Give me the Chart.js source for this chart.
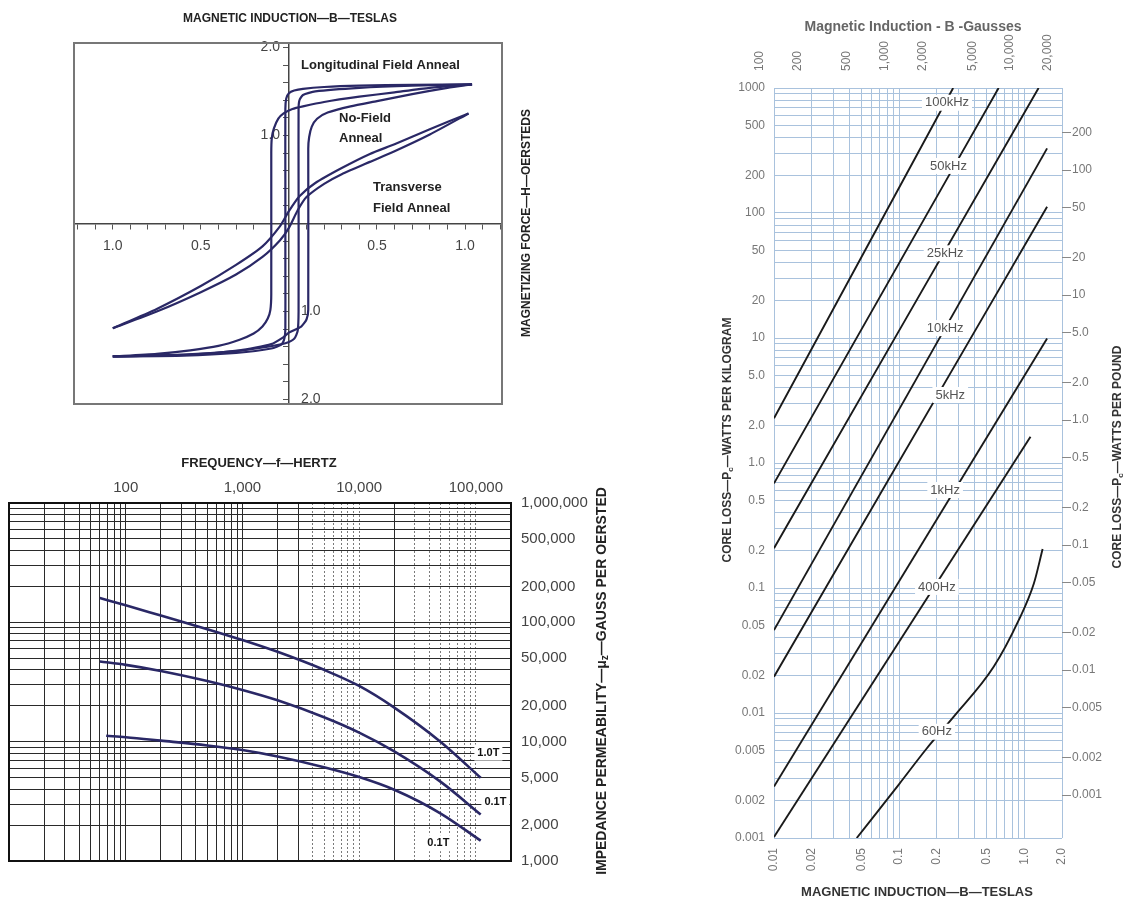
<!DOCTYPE html>
<html>
<head>
<meta charset="utf-8">
<title>Magnetic properties</title>
<style>
  body { margin: 0; background: #fff; }
  #page { position: relative; width: 1127px; height: 901px; overflow: hidden; }
  canvas { position: absolute; }
</style>
</head>
<body>
<div id="page">
  <canvas id="loops" width="560" height="420" style="left:0;top:0"></canvas>
  <canvas id="perm" width="620" height="461" style="left:0;top:440px"></canvas>
  <canvas id="loss" width="427" height="901" style="left:700px;top:0"></canvas>
</div>
<script src="https://cdn.jsdelivr.net/npm/chart.js@4.4.1/dist/chart.umd.min.js"></script>
<script>
// ---- hysteresis loops, points are [H oersteds, B teslas]
const longitudinalDown = [[1.04,1.58],[0.7,1.575],[0.4,1.565],[0.2,1.55],[0.08,1.53],[0.03,1.51],[0,1.48],[-0.015,1.42],[-0.02,1.3],[-0.02,0.5],[-0.02,-0.5],[-0.02,-1.2],[-0.025,-1.3],[-0.04,-1.37],[-0.1,-1.42],[-0.3,-1.47],[-0.6,-1.5],[-1.0,-1.51]];
const longitudinalUp = [[-1.0,-1.51],[-0.6,-1.49],[-0.3,-1.45],[-0.12,-1.4],[-0.02,-1.36],[0.03,-1.31],[0.05,-1.22],[0.055,-1.0],[0.055,0.5],[0.055,1.3],[0.06,1.4],[0.08,1.46],[0.15,1.5],[0.4,1.54],[0.7,1.565],[1.04,1.58]];
const noFieldDown = [[1.04,1.58],[0.8,1.54],[0.6,1.49],[0.4,1.44],[0.2,1.38],[0.08,1.33],[0.02,1.3],[-0.03,1.25],[-0.06,1.19],[-0.085,1.08],[-0.097,0.97],[-0.1,0.8],[-0.1,-0.8],[-0.105,-0.98],[-0.12,-1.08],[-0.15,-1.17],[-0.2,-1.25],[-0.28,-1.32],[-0.4,-1.39],[-0.56,-1.44],[-0.75,-1.48],[-1.0,-1.51]];
const noFieldUp = [[-1.0,-1.51],[-0.56,-1.49],[-0.28,-1.44],[-0.1,-1.37],[-0.03,-1.29],[0,-1.24],[0.07,-1.17],[0.1,-1.09],[0.11,-0.98],[0.11,0.85],[0.115,0.98],[0.13,1.1],[0.16,1.19],[0.22,1.26],[0.35,1.33],[0.5,1.39],[0.7,1.47],[0.9,1.54],[1.04,1.58]];
const transverseDown = [[1.02,1.25],[0.8,1.07],[0.6,0.9],[0.46,0.79],[0.3,0.63],[0.15,0.46],[0.06,0.31],[0,0.14],[-0.05,-0.03],[-0.15,-0.26],[-0.3,-0.47],[-0.5,-0.71],[-0.75,-0.97],[-1.0,-1.19]];
const transverseUp = [[-1.0,-1.19],[-0.75,-1.0],[-0.5,-0.78],[-0.3,-0.58],[-0.15,-0.38],[-0.05,-0.19],[0,-0.05],[0.05,0.15],[0.1,0.3],[0.2,0.45],[0.3,0.56],[0.46,0.7],[0.6,0.82],[0.8,1.01],[1.02,1.25]];
const hLabelValues = [-1, -0.5, 0.5, 1];
const hLabels = ['1.0', '0.5', '0.5', '1.0'];
const bUpperValues = [1, 2];
const bUpperLabels = ['1.0', '2.0'];
const bLowerValues = [-1, -2];
const bLowerLabels = ['1.0', '2.0'];

// ---- impedance permeability vs frequency
const permFreq10T = [60, 100, 200, 500, 1000, 2000, 5000, 10000, 20000, 50000, 110000];
const perm10T = [160000, 139000, 114000, 87700, 71100, 56600, 40000, 29300, 19300, 9950, 4980];
const permFreq01T = [60, 100, 200, 500, 1000, 2000, 5000, 10000, 20000, 50000, 110000];
const perm01T = [47000, 44000, 39100, 32200, 27100, 22200, 16000, 11900, 8280, 4600, 2450];
const permFreq01TLow = [68, 100, 200, 500, 1000, 2000, 5000, 10000, 20000, 50000, 110000];
const perm01TLow = [11200, 10900, 10200, 9300, 8500, 7500, 6100, 5050, 3950, 2500, 1480];
const freqTicks = [100, 1000, 10000, 100000];
const freqLabels = ['100', '1,000', '10,000', '100,000'];
const permTicks = [1000000, 500000, 200000, 100000, 50000, 20000, 10000, 5000, 2000, 1000];
const permLabels = ['1,000,000', '500,000', '200,000', '100,000', '50,000', '20,000', '10,000', '5,000', '2,000', '1,000'];

// ---- core loss vs induction
const lossB100k = [0.01, 0.27];  const loss100k = [2.28, 1000];
const lossB50k  = [0.01, 0.623]; const loss50k  = [0.687, 1000];
const lossB25k  = [0.01, 1.30];  const loss25k  = [0.208, 1000];
const lossB10k  = [0.01, 1.52];  const loss10k  = [0.046, 329];
const lossB5k   = [0.01, 1.52];  const loss5k   = [0.0195, 112];
const lossB1k   = [0.01, 1.52];  const loss1k   = [0.00258, 9.9];
const lossB400  = [0.01, 1.12];  const loss400  = [0.00102, 1.62];
const lossB60   = [0.0458, 0.1, 0.166, 0.272, 0.569, 0.9, 1.19, 1.40];
const loss60    = [0.001, 0.0027, 0.0052, 0.0093, 0.0234, 0.055, 0.108, 0.205];
const lossNames = ['100kHz', '50kHz', '25kHz', '10kHz', '5kHz', '1kHz', '400Hz', '60Hz'];
const teslaTicks = [0.01, 0.02, 0.05, 0.1, 0.2, 0.5, 1, 2];
const teslaLabels = ['0.01', '0.02', '0.05', '0.1', '0.2', '0.5', '1.0', '2.0'];
const gaussTicks = [100, 200, 500, 1000, 2000, 5000, 10000, 20000];
const gaussLabels = ['100', '200', '500', '1,000', '2,000', '5,000', '10,000', '20,000'];
const kgTicks = [1000, 500, 200, 100, 50, 20, 10, 5, 2, 1, 0.5, 0.2, 0.1, 0.05, 0.02, 0.01, 0.005, 0.002, 0.001];
const kgLabels = ['1000', '500', '200', '100', '50', '20', '10', '5.0', '2.0', '1.0', '0.5', '0.2', '0.1', '0.05', '0.02', '0.01', '0.005', '0.002', '0.001'];
const lbTicks = [200, 100, 50, 20, 10, 5, 2, 1, 0.5, 0.2, 0.1, 0.05, 0.02, 0.01, 0.005, 0.002, 0.001];
const lbLabels = ['200', '100', '50', '20', '10', '5.0', '2.0', '1.0', '0.5', '0.2', '0.1', '0.05', '0.02', '0.01', '0.005', '0.002', '0.001'];
const LB_PER_KG = 0.4536;

const FONT = "'Liberation Sans', Arial, Helvetica, sans-serif";
Chart.defaults.font.family = FONT;
Chart.defaults.color = '#333';
const navy = '#2a2866';

const ticksAt = list => scale => { scale.ticks = list.map(v => ({ value: v })); };
const labelFor = (values, labels) => v => {
  const i = values.findIndex(t => Math.abs(t - v) <= Math.abs(t) * 1e-6 + 1e-9);
  return i < 0 ? '' : labels[i];
};
function logGrid(fromExp, toExp) {
  const out = [];
  for (let e = fromExp; e < toExp; e++)
    for (let s = 1; s < 10; s++) out.push(+(s * Math.pow(10, e)).toPrecision(6));
  return out;
}
function steps(from, to, step) {
  const out = [];
  for (let v = from; v <= to + 1e-9; v += step) out.push(+v.toFixed(4));
  return out;
}

// text drawn on the canvas, either at canvas pixels or at data coordinates
function textLayer(items) {
  return {
    id: 'textLayer',
    afterDatasetsDraw(chart) {
      const ctx = chart.ctx;
      items.forEach(it => {
        let x = it.x, y = it.y;
        if (it.at) {
          x = chart.scales.x.getPixelForValue(it.at[0]);
          y = chart.scales.y.getPixelForValue(it.at[1]);
        }
        const parts = it.parts || [{ t: it.text }];
        ctx.save();
        ctx.translate(x, y);
        ctx.rotate(it.rot || 0);
        ctx.textBaseline = 'middle';
        ctx.textAlign = 'left';
        const widths = parts.map(p => { ctx.font = p.font || it.font; return ctx.measureText(p.t).width; });
        const total = widths.reduce((a, b) => a + b, 0);
        let cx = it.align === 'left' ? 0 : -total / 2;
        if (it.bg) {
          ctx.fillStyle = it.bg;
          ctx.fillRect(cx - 3, -8, total + 6, 16);
        }
        parts.forEach((p, i) => {
          ctx.font = p.font || it.font;
          ctx.fillStyle = it.color;
          ctx.fillText(p.t, cx, p.dy || 0);
          cx += widths[i];
        });
        ctx.restore();
      });
    }
  };
}
function frame(color, width) {
  return {
    id: 'frame',
    afterDraw(chart) {
      const a = chart.chartArea, ctx = chart.ctx;
      ctx.save();
      ctx.strokeStyle = color;
      ctx.lineWidth = width;
      ctx.strokeRect(a.left, a.top, a.right - a.left, a.bottom - a.top);
      ctx.restore();
    }
  };
}
const quiet = { legend: { display: false }, tooltip: { enabled: false } };

// ================= hysteresis loops =================
const loopSet = pts => ({
  data: pts.map(([x, y]) => ({ x, y })), showLine: true, borderColor: navy,
  borderWidth: 2.2, pointRadius: 0, tension: 0.2
});
const labelAxis = (px, values, labels) => ({
  type: 'linear', axis: 'y', position: { x: px }, min: -2.05, max: 2.05,
  afterBuildTicks: ticksAt(values),
  ticks: { padding: 0, font: { size: 14 }, color: '#444', callback: labelFor(values, labels) },
  grid: { display: false, drawTicks: false, tickLength: 0 },
  border: { display: false }
});
const loopTexts = [
  { text: 'MAGNETIC INDUCTION—B—TESLAS', x: 290, y: 19, font: `bold 12px ${FONT}`, color: '#222' },
  { text: 'MAGNETIZING FORCE—H—OERSTEDS', x: 527, y: 223, rot: -Math.PI / 2, font: `bold 12px ${FONT}`, color: '#222' },
  { text: 'Longitudinal Field Anneal', x: 301, y: 65, align: 'left', font: `bold 13px ${FONT}`, color: '#222' },
  { text: 'No-Field', x: 339, y: 118, align: 'left', font: `bold 13px ${FONT}`, color: '#222' },
  { text: 'Anneal', x: 339, y: 138, align: 'left', font: `bold 13px ${FONT}`, color: '#222' },
  { text: 'Transverse', x: 373, y: 187, align: 'left', font: `bold 13px ${FONT}`, color: '#222' },
  { text: 'Field Anneal', x: 373, y: 208, align: 'left', font: `bold 13px ${FONT}`, color: '#222' }
];
new Chart(document.getElementById('loops'), {
  type: 'scatter',
  data: { datasets: [longitudinalDown, longitudinalUp, noFieldDown, noFieldUp, transverseDown, transverseUp].map(loopSet) },
  options: {
    responsive: false, animation: false,
    layout: { padding: { left: 74, top: 43, right: 58, bottom: 16 } },
    plugins: quiet,
    scales: {
      x: {
        type: 'linear', position: { y: 0 }, min: -1.22, max: 1.21,
        afterBuildTicks: ticksAt(steps(-1.2, 1.2, 0.1)),
        ticks: { autoSkip: false, maxRotation: 0, padding: 9, font: { size: 14 }, color: '#444', callback: labelFor(hLabelValues, hLabels) },
        grid: { drawOnChartArea: false, tickLength: 5, color: '#555' },
        border: { color: '#444', width: 1.5 }
      },
      y: {
        type: 'linear', position: { x: 0 }, min: -2.05, max: 2.05,
        afterBuildTicks: ticksAt(steps(-2.0, 2.0, 0.2)),
        ticks: { display: false },
        grid: { drawOnChartArea: false, tickLength: 5, color: '#555' },
        border: { color: '#444', width: 1.5 }
      },
      yl: labelAxis(-0.05, bUpperValues, bUpperLabels),
      yr: labelAxis(0.18, bLowerValues, bLowerLabels)
    }
  },
  plugins: [textLayer(loopTexts), frame('#777', 2)]
});

// ================= permeability =================
const permSet = (f, m) => ({
  data: f.map((x, i) => ({ x, y: m[i] })), showLine: true, borderColor: navy,
  borderWidth: 2.6, pointRadius: 0, cubicInterpolationMode: 'monotone'
});
const dottedFreq = t => !!t && ((t.value >= 4000 && t.value <= 10000) || (t.value >= 30000 && t.value <= 100000));
const tLabel = `bold 11px ${FONT}`;
const permTexts = [
  { text: 'FREQUENCY—f—HERTZ', x: 259, y: 23, font: `bold 13px ${FONT}`, color: '#222' },
  { parts: [{ t: 'IMPEDANCE PERMEABILITY—μ' }, { t: 'z', font: `bold 10px ${FONT}`, dy: 3 }, { t: '—GAUSS PER OERSTED' }],
    x: 602, y: 241, rot: -Math.PI / 2, font: `bold 14px ${FONT}`, color: '#222' },
  { text: '1.0T', at: [128000, 8100], font: tLabel, color: '#111', bg: '#fff' },
  { text: '0.1T', at: [147000, 3100], font: tLabel, color: '#111', bg: '#fff' },
  { text: '0.1T', at: [47700, 1410], font: tLabel, color: '#111', bg: '#fff' }
];
new Chart(document.getElementById('perm'), {
  type: 'scatter',
  data: { datasets: [permSet(permFreq10T, perm10T), permSet(permFreq01T, perm01T), permSet(permFreq01TLow, perm01TLow)] },
  options: {
    responsive: false, animation: false,
    layout: { padding: { left: 9, top: 0, right: 0, bottom: 40 } },
    plugins: quiet,
    scales: {
      x: {
        type: 'logarithmic', position: 'top', min: 10, max: 200000,
        afterBuildTicks: ticksAt(logGrid(1, 5).concat([100000, 200000])),
        afterFit: s => { s.height = 63; },
        ticks: { autoSkip: false, maxRotation: 0, padding: 6, font: { size: 15 }, color: '#444', callback: labelFor(freqTicks, freqLabels) },
        grid: { drawTicks: false, color: c => dottedFreq(c.tick) ? '#7a7a7a' : '#2a2a2a' },
        border: { display: false, dash: c => dottedFreq(c.tick) ? [2, 2] : [] }
      },
      y: {
        type: 'logarithmic', position: 'right', min: 1000, max: 1000000,
        afterBuildTicks: ticksAt(logGrid(3, 6).concat([1000000])),
        afterFit: s => { s.width = 109; },
        ticks: { autoSkip: false, padding: 10, font: { size: 15 }, color: '#444', callback: labelFor(permTicks, permLabels) },
        grid: { drawTicks: false, color: '#2a2a2a' },
        border: { display: false }
      }
    }
  },
  plugins: [textLayer(permTexts), frame('#111', 2)]
});

// ================= core loss =================
const lossSet = (b, p) => ({
  data: b.map((x, i) => ({ x, y: p[i] })), showLine: true, borderColor: '#1a1a1a',
  borderWidth: 1.9, pointRadius: 0, cubicInterpolationMode: 'monotone'
});
const lossLabelAt = [[0.241, 762], [0.248, 238], [0.233, 47.6], [0.233, 12], [0.256, 3.5], [0.233, 0.608], [0.2, 0.102], [0.2, 0.00708]];
const gridBlue = '#a9c2dd';
const grayTick = { font: { size: 12 }, color: '#777', autoSkip: false };
const sub = `bold 8px ${FONT}`;
const lossTexts = [
  { text: 'Magnetic Induction - B -Gausses', x: 213, y: 27, font: `bold 14px ${FONT}`, color: '#666' },
  { text: 'MAGNETIC INDUCTION—B—TESLAS', x: 217, y: 892, font: `bold 13px ${FONT}`, color: '#333' },
  { parts: [{ t: 'CORE LOSS—P' }, { t: 'c', font: sub, dy: 3 }, { t: '—WATTS PER KILOGRAM' }],
    x: 28, y: 440, rot: -Math.PI / 2, font: `bold 12px ${FONT}`, color: '#333' },
  { parts: [{ t: 'CORE LOSS—P' }, { t: 'c', font: sub, dy: 3 }, { t: '—WATTS PER POUND' }],
    x: 418, y: 457, rot: -Math.PI / 2, font: `bold 12px ${FONT}`, color: '#333' }
].concat(lossNames.map((n, i) => ({ text: n, at: lossLabelAt[i], font: `13px ${FONT}`, color: '#555', bg: '#fff' })));
new Chart(document.getElementById('loss'), {
  type: 'scatter',
  data: {
    datasets: [
      lossSet(lossB100k, loss100k), lossSet(lossB50k, loss50k), lossSet(lossB25k, loss25k),
      lossSet(lossB10k, loss10k), lossSet(lossB5k, loss5k), lossSet(lossB1k, loss1k),
      lossSet(lossB400, loss400), lossSet(lossB60, loss60)
    ]
  },
  options: {
    responsive: false, animation: false,
    layout: { padding: 0 },
    plugins: quiet,
    scales: {
      x: {
        type: 'logarithmic', position: 'bottom', min: 0.01, max: 2,
        afterBuildTicks: ticksAt(logGrid(-2, 0).concat([1, 2])),
        afterFit: s => { s.height = 63; },
        ticks: { ...grayTick, minRotation: 90, maxRotation: 90, padding: 10, callback: labelFor(teslaTicks, teslaLabels) },
        grid: { drawTicks: false, color: gridBlue },
        border: { display: false }
      },
      x2: {
        type: 'logarithmic', axis: 'x', position: 'top', min: 100, max: 20000,
        afterBuildTicks: ticksAt(gaussTicks),
        afterFit: s => { s.height = 88; },
        ticks: { ...grayTick, minRotation: 90, maxRotation: 90, padding: 9, callback: labelFor(gaussTicks, gaussLabels) },
        grid: { display: false },
        border: { display: false }
      },
      y: {
        type: 'logarithmic', position: 'left', min: 0.001, max: 1000,
        afterBuildTicks: ticksAt(logGrid(-3, 3).concat([1000])),
        afterFit: s => { s.width = 74; },
        ticks: { ...grayTick, padding: 9, callback: labelFor(kgTicks, kgLabels) },
        grid: { drawTicks: false, color: gridBlue },
        border: { display: false }
      },
      y2: {
        type: 'logarithmic', axis: 'y', position: 'right', min: 0.001 * LB_PER_KG, max: 1000 * LB_PER_KG,
        afterBuildTicks: ticksAt(lbTicks),
        afterFit: s => { s.width = 65; },
        ticks: { ...grayTick, padding: 1, callback: labelFor(lbTicks, lbLabels) },
        grid: { drawOnChartArea: false, tickLength: 9, color: '#888' },
        border: { display: false }
      }
    }
  },
  plugins: [textLayer(lossTexts)]
});
</script>
</body>
</html>
